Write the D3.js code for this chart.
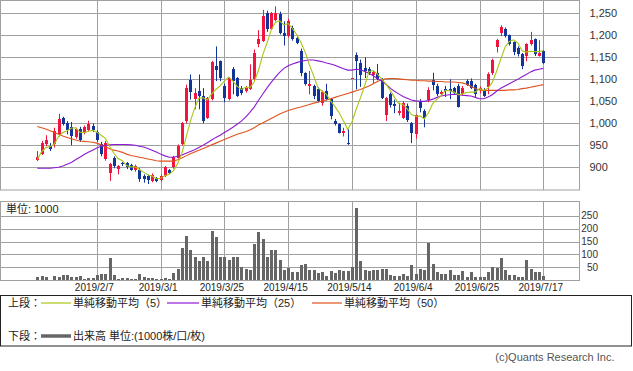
<!DOCTYPE html>
<html>
<head>
<meta charset="utf-8">
<script src="https://cdn.jsdelivr.net/npm/d3@7"></script>
<style>
  body { margin: 0; background: #fff; }
  svg { display: block; font-family: "Liberation Sans", Arial, "Noto Sans CJK JP", sans-serif; }
</style>
</head>
<body>
<svg id="chart"></svg>
<script>
// trading days, 2019
const dates = [
  '1/18','1/21','1/22','1/23','1/24','1/25','1/28','1/29','1/30','1/31',
  '2/1','2/4','2/5','2/6','2/7','2/8','2/12','2/13','2/14','2/15',
  '2/18','2/19','2/20','2/21','2/22','2/25','2/26','2/27','2/28','3/1',
  '3/4','3/5','3/6','3/7','3/8','3/11','3/12','3/13','3/14','3/15',
  '3/18','3/19','3/20','3/22','3/25','3/26','3/27','3/28','3/29','4/1',
  '4/2','4/3','4/4','4/5','4/8','4/9','4/10','4/11','4/12','4/15',
  '4/16','4/17','4/18','4/19','4/22','4/23','4/24','4/25','4/26','5/7',
  '5/8','5/9','5/10','5/13','5/14','5/15','5/16','5/17','5/20','5/21',
  '5/22','5/23','5/24','5/27','5/28','5/29','5/30','5/31','6/3','6/4',
  '6/5','6/6','6/7','6/10','6/11','6/12','6/13','6/14','6/17','6/18',
  '6/19','6/20','6/21','6/24','6/25','6/26','6/27','6/28','7/1','7/2',
  '7/3','7/4','7/5','7/8','7/9','7/10','7/11','7/12','7/16','7/17'
];

const open = [
  916,930,952,948,952,975,1013,1000,992,968,
  988,979,985,995,980,952,918,888,922,896,
  909,909,906,895,894,880,880,869,875,871,
  880,893,900,922,953,1005,1098,1056,1073,1062,
  1013,1055,1130,1141,1085,1056,1123,1102,1081,1074,
  1079,1100,1180,1187,1252,1215,1236,1248,1206,1198,
  1217,1195,1164,1114,1086,1085,1079,1047,1073,1055,
  1005,998,977,956,1104,1155,1138,1125,1123,1109,
  1115,1100,1020,1066,1045,1023,1013,1040,1000,975,
  1048,1028,1054,1098,1086,1066,1079,1078,1081,1086,
  1066,1096,1096,1087,1075,1075,1082,1114,1173,1206,
  1215,1200,1184,1172,1157,1153,1180,1191,1153,1164
];
const high = [
  937,960,973,955,990,1022,1015,1005,1003,990,
  992,995,1006,1000,984,958,960,910,925,905,
  912,912,908,906,898,884,883,886,878,884,
  903,896,926,952,1003,1088,1111,1080,1111,1080,
  1060,1142,1175,1143,1090,1105,1128,1105,1085,1085,
  1134,1168,1212,1258,1256,1253,1266,1254,1232,1238,
  1222,1198,1170,1116,1119,1088,1082,1075,1090,1058,
  1010,1000,990,986,1104,1161,1145,1150,1128,1120,
  1135,1103,1060,1070,1054,1047,1050,1045,1003,1020,
  1055,1032,1082,1115,1090,1075,1085,1100,1083,1090,
  1085,1100,1102,1090,1084,1080,1116,1147,1192,1223,
  1218,1202,1186,1175,1160,1182,1208,1193,1189,1166
];
const low = [
  914,928,948,937,945,970,995,975,950,965,
  958,975,982,980,958,925,915,869,898,884,
  903,896,892,890,867,865,862,866,866,868,
  878,885,897,920,950,1000,1054,1032,1032,1000,
  1010,1052,1096,1096,1048,1052,1066,1060,1064,1070,
  1076,1096,1173,1185,1208,1212,1232,1202,1177,1195,
  1188,1180,1107,1086,1066,1055,1048,1040,1052,1009,
  995,977,970,951,1104,1077,1083,1103,1110,1090,
  1098,1055,1005,1036,1023,1018,1010,1003,955,965,
  1025,991,1048,1075,1062,1062,1060,1055,1066,1036,
  1063,1085,1078,1060,1068,1060,1066,1110,1161,1198,
  1195,1177,1155,1152,1123,1141,1177,1153,1152,1135
];
const close = [
  923,955,963,941,982,1010,998,984,971,986,
  962,992,998,984,962,930,956,907,903,902,
  907,900,895,902,873,873,871,883,869,880,
  900,888,923,948,1000,1081,1071,1070,1062,1005,
  1057,1139,1121,1104,1058,1102,1096,1062,1068,1082,
  1099,1161,1191,1244,1214,1250,1251,1206,1198,1232,
  1191,1183,1114,1089,1090,1062,1051,1071,1055,1017,
  998,979,982,954,1104,1142,1110,1118,1114,1116,
  1100,1058,1058,1041,1040,1028,1047,1007,979,1018,
  1034,1013,1075,1087,1066,1072,1073,1074,1070,1038,
  1081,1087,1081,1066,1080,1062,1113,1144,1189,1220,
  1198,1180,1162,1157,1130,1180,1190,1157,1159,1138
];

const ma5 = [
  918,935,945,947,953,970,979,983,989,990,
  980,979,982,984,980,973,966,948,932,920,
  915,904,901,901,895,889,883,880,874,875,
  881,884,892,908,932,968,1005,1034,1057,1058,
  1053,1067,1077,1085,1096,1105,1096,1084,1077,1082,
  1081,1094,1120,1155,1182,1212,1230,1233,1224,1227,
  1216,1202,1184,1162,1133,1108,1081,1073,1066,1051,
  1038,1024,1006,986,1003,1032,1058,1086,1118,1120,
  1112,1101,1089,1075,1059,1045,1043,1033,1020,1016,
  1017,1010,1024,1045,1055,1063,1075,1074,1071,1065,
  1067,1070,1071,1071,1079,1075,1080,1093,1118,1146,
  1173,1186,1190,1183,1165,1162,1164,1163,1163,1165
];
const ma25 = [
  898,898,898,898,899,900,903,907,911,917,
  923,929,934,939,944,948,950,951,952,952,
  952,952,951,950,948,946,943,939,935,930,
  926,923,923,925,928,932,936,940,945,950,
  956,962,968,973,979,985,991,998,1005,1014,
  1025,1037,1052,1066,1080,1093,1105,1116,1125,1131,
  1135,1138,1141,1143,1144,1144,1142,1140,1137,1135,
  1132,1128,1124,1121,1121,1123,1122,1118,1114,1108,
  1102,1096,1089,1080,1073,1067,1061,1057,1053,1051,
  1050,1050,1052,1055,1059,1062,1064,1065,1066,1065,
  1064,1063,1062,1059,1056,1056,1060,1065,1073,1080,
  1085,1090,1095,1100,1106,1111,1117,1121,1123,1125
];
const ma50 = [
  993,990,987,983,979,975,971,968,965,962,
  960,959,958,957,955,951,947,942,939,937,
  934,930,927,925,923,921,919,917,915,914,
  914,914,914,917,921,926,931,935,939,943,
  947,951,955,959,963,967,971,975,978,981,
  985,990,996,1001,1006,1011,1016,1021,1025,1029,
  1032,1035,1037,1040,1043,1046,1048,1051,1053,1056,
  1059,1062,1065,1068,1071,1074,1077,1081,1085,1090,
  1095,1099,1101,1102,1102,1101,1100,1099,1098,1098,
  1097,1097,1096,1096,1095,1095,1094,1094,1094,1093,
  1092,1089,1084,1079,1076,1075,1075,1075,1075,1075,
  1075,1076,1076,1077,1079,1080,1082,1084,1086,1088
];

// volume, 1000 shares
const volume = [
  17,19,15,6,22,18,23,23,17,15,
  19,9,12,12,23,27,27,90,23,10,
  12,12,10,8,27,15,12,12,10,9,
  12,8,32,49,128,177,119,94,77,92,
  79,195,173,95,92,83,92,92,54,49,
  45,144,192,165,92,119,119,81,45,51,
  36,36,62,65,44,44,31,36,19,38,
  31,42,41,41,54,282,77,44,38,44,
  44,47,47,23,19,19,28,19,62,28,
  47,42,147,67,36,26,28,45,23,23,
  38,18,35,15,15,18,35,54,51,90,
  45,23,23,18,15,81,46,35,37,19
];

const tickDates = ['2/7','3/1','3/25','4/15','5/14','6/4','6/25','7/17'];
const priceTicks = [900, 950, 1000, 1050, 1100, 1150, 1200, 1250];
const volTicks = [50, 100, 150, 200, 250];

const W = 633, H = 371;
const RED = '#f2143e', BLUE = '#13359a';
const C5 = '#a8c614', C25 = '#8e1ad2', C50 = '#e0521e';
const GRID = '#a0a0a0';

const svg = d3.select('#chart').attr('width', W).attr('height', H);

const plotR = 579.5;
const x = d3.scaleLinear().domain([-8.77, 127.47]).range([0, 579.3]);
const y = d3.scaleLinear().domain([850, 1280]).range([189.3, 0.2]);
const yv = d3.scaleLinear().domain([0, 300]).range([281.2, 203.8]);

const px = v => Math.round(v) + 0.5;
const idx = dates.map((d, i) => i);
const tickIdx = tickDates.map(d => dates.indexOf(d));

// ---- price panel ----
const upper = svg.append('g');
upper.append('g').selectAll('line').data(priceTicks).enter().append('line')
  .attr('x1', 0).attr('x2', plotR)
  .attr('y1', d => px(y(d))).attr('y2', d => px(y(d)))
  .attr('stroke', GRID);
upper.append('g').selectAll('line').data(tickIdx).enter().append('line')
  .attr('x1', d => px(x(d))).attr('x2', d => px(x(d)))
  .attr('y1', 0.5).attr('y2', 190)
  .attr('stroke', GRID);
upper.append('rect').attr('x', 0.5).attr('y', 0.5).attr('width', plotR - 0.5).attr('height', 189.5)
  .attr('fill', 'none').attr('stroke', GRID);

const priceAxis = d3.axisRight(y).tickValues(priceTicks).tickSize(0).tickPadding(10)
  .tickFormat(d3.format(','));
upper.append('g').attr('transform', `translate(${plotR},0)`).call(priceAxis)
  .call(g => g.select('.domain').remove())
  .call(g => g.selectAll('text').attr('font-size', 11).attr('fill', '#333')
    .attr('font-family', '"Liberation Sans", Arial, sans-serif'));

// candles
const candle = upper.append('g').selectAll('g').data(idx).enter().append('g');
candle.append('line')
  .attr('x1', i => px(x(i))).attr('x2', i => px(x(i)))
  .attr('y1', i => y(high[i])).attr('y2', i => y(low[i]))
  .attr('stroke', i => close[i] >= open[i] ? RED : BLUE).attr('stroke-width', 1);
candle.append('rect')
  .attr('x', i => Math.round(x(i)) - 1)
  .attr('width', 3)
  .attr('y', i => Math.round(y(Math.max(open[i], close[i]))))
  .attr('height', i => Math.max(1, Math.round(y(Math.min(open[i], close[i]))) - Math.round(y(Math.max(open[i], close[i])))))
  .attr('fill', i => close[i] >= open[i] ? RED : BLUE);

// moving averages
const maLine = arr => d3.line().x(i => x(i)).y(i => y(arr[i]))(idx);
[[ma50, C50], [ma25, C25], [ma5, C5]].forEach(([arr, col]) => {
  upper.append('path').attr('d', maLine(arr))
    .attr('fill', 'none').attr('stroke', col).attr('stroke-width', 1.1);
});

// ---- volume panel ----
const lower = svg.append('g');
lower.append('g').selectAll('line').data(volTicks).enter().append('line')
  .attr('x1', 0).attr('x2', plotR)
  .attr('y1', d => px(yv(d)) - 1).attr('y2', d => px(yv(d)) - 1)
  .attr('stroke', GRID);
lower.append('g').selectAll('line').data(tickIdx).enter().append('line')
  .attr('x1', d => px(x(d))).attr('x2', d => px(x(d)))
  .attr('y1', 201.5).attr('y2', 280.5)
  .attr('stroke', GRID);

lower.append('g').selectAll('rect').data(idx).enter().append('rect')
  .attr('x', i => Math.round(x(i)) - 1)
  .attr('width', 3)
  .attr('y', i => Math.round(yv(volume[i])))
  .attr('height', i => 280 - Math.round(yv(volume[i])))
  .attr('fill', '#666');

lower.append('rect').attr('x', 0.5).attr('y', 201.5).attr('width', plotR - 0.5).attr('height', 79)
  .attr('fill', 'none').attr('stroke', GRID);

const volAxis = d3.axisRight(yv).tickValues(volTicks).tickSize(0).tickPadding(0);
lower.append('g').attr('transform', 'translate(598,-1)').call(volAxis)
  .call(g => g.select('.domain').remove())
  .call(g => g.selectAll('text').attr('text-anchor', 'end').attr('font-size', 10).attr('fill', '#333'));

lower.append('text').attr('x', 6).attr('y', 213).attr('font-size', 11).attr('fill', '#222')
  .text('単位: 1000');

// date axis
const dateAxis = d3.axisBottom(x).tickValues(tickIdx).tickSize(0).tickPadding(0)
  .tickFormat(i => '2019/' + dates[i]);
svg.append('g').attr('transform', 'translate(-3,284)').call(dateAxis)
  .call(g => g.select('.domain').remove())
  .call(g => g.selectAll('text').attr('font-size', 10).attr('fill', '#222'));

// ---- legend ----
const leg = svg.append('g').attr('font-size', 11).attr('fill', '#222');
leg.append('rect').attr('x', 0.5).attr('y', 295.5).attr('width', 631).attr('height', 50.5)
  .attr('fill', 'none').attr('stroke', '#222');
leg.append('text').attr('x', 8).attr('y', 307).text('上段：');
const items = [
  { x1: 41, x2: 71, col: C5, label: '単純移動平均（5）' },
  { x1: 167, x2: 199, col: C25, label: '単純移動平均（25）' },
  { x1: 312, x2: 342, col: C50, label: '単純移動平均（50）' }
];
items.forEach(it => {
  leg.append('line').attr('x1', it.x1).attr('x2', it.x2).attr('y1', 303).attr('y2', 303)
    .attr('stroke', it.col).attr('stroke-width', 1.2);
  leg.append('text').attr('x', it.x2 + 2).attr('y', 307).text(it.label);
});
leg.append('text').attr('x', 8).attr('y', 340).text('下段：');
leg.append('line').attr('x1', 41).attr('x2', 71).attr('y1', 336).attr('y2', 336)
  .attr('stroke', '#666').attr('stroke-width', 3.5);
leg.append('text').attr('x', 73).attr('y', 340).text('出来高 単位:(1000株/口/枚)');

svg.append('text').attr('x', 614.5).attr('y', 361).attr('text-anchor', 'end')
  .attr('font-size', 11).attr('fill', '#555').text('(c)Quants Research Inc.');
</script>
</body>
</html>
